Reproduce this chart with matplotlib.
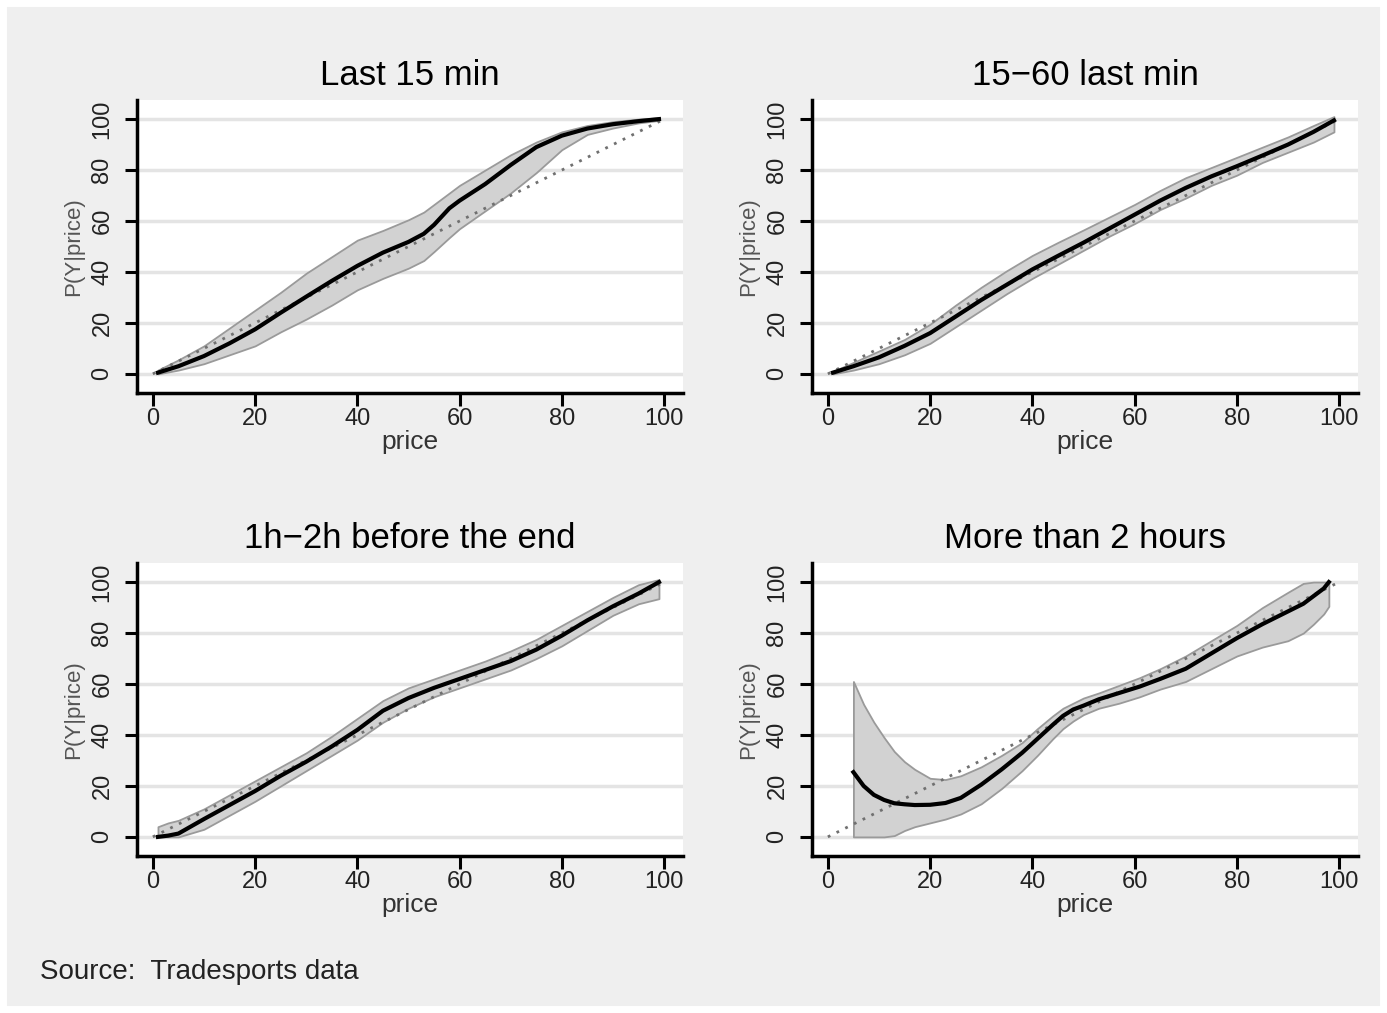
import matplotlib.pyplot as plt
from matplotlib.patches import Rectangle

plt.rcParams['font.family'] = ['Liberation Sans', 'DejaVu Sans']

# Panel titles
titles = ['Last 15 min', '15\u221260 last min', '1h\u22122h before the end', 'More than 2 hours']

# Last 15 min
x_tl = [1, 5, 10, 15, 20, 25, 30, 35, 40, 45, 50, 53, 55, 58, 60, 65, 70, 75, 80, 85, 90, 95, 99]
fit_tl = [0.5, 3, 7, 12, 17.5, 24, 30.3, 36.5, 42.4, 47.6, 51.8, 55, 58.5, 65, 68, 74.5, 82, 89, 93.5, 96.3, 98, 99.2, 100]
hi_tl = [1.5, 5.5, 11, 18, 25, 32, 39.5, 46, 52.5, 56.3, 60.5, 63.5, 66.5, 71, 74, 80, 86, 91, 95, 97.5, 99, 100, 100.5]
lo_tl = [0, 1.5, 4, 7.5, 11, 16.5, 21.5, 27, 33, 37.5, 41.5, 44.5, 48, 53.5, 57, 64, 71, 79, 88, 94, 96.5, 98.5, 99.5]

# 15-60 last min
x_tr = [1, 5, 10, 15, 20, 25, 30, 35, 40, 45, 50, 55, 60, 65, 70, 75, 80, 85, 90, 95, 99]
fit_tr = [0.5, 3, 6.5, 11, 16, 22.5, 29, 35, 41, 46.3, 51.5, 57, 62.5, 68, 73, 77.5, 81.5, 85.7, 90, 95, 99.5]
hi_tr = [1, 4.5, 9, 13.5, 19.5, 27, 34, 40.5, 46.5, 51.6, 56.5, 61.5, 66.5, 72, 77, 81, 85, 89, 93, 97.5, 101]
lo_tr = [0, 1.5, 4, 7.5, 12, 18.5, 25, 31.5, 37.5, 43, 48.5, 54, 59, 64.5, 69, 74, 78, 83, 87, 91, 95]

# 1h-2h before the end
x_bl = [1, 3, 5, 10, 15, 20, 25, 30, 35, 40, 45, 50, 55, 60, 65, 70, 75, 80, 85, 90, 95, 99]
fit_bl = [0, 0.5, 1.3, 7, 12.5, 18, 24, 29.5, 35.5, 42, 49.5, 54.5, 58.5, 62, 65.5, 69, 73.5, 79, 85, 90.5, 95.5, 100]
hi_bl = [4, 5.5, 6.5, 11, 16.5, 22, 27.5, 33, 39.5, 46.5, 53.5, 58.5, 62, 65.5, 69, 73, 77.5, 83, 88.5, 94, 99, 101]
lo_bl = [0, 0, 0, 3, 8.5, 14, 20, 26, 32, 38, 45, 50.5, 55, 58.5, 62, 65.5, 70, 75, 81, 87, 91.5, 93.5]

# More than 2 hours
x_br = [5, 7, 9, 11, 13, 15, 17, 20, 23, 26, 30, 34, 38, 41, 44, 46, 48, 50, 53, 57, 61, 65, 70, 75, 80, 85, 90, 93, 95, 97, 98]
fit_br = [25.4, 20, 16.5, 14.5, 13.2, 12.8, 12.5, 12.6, 13.3, 15.3, 20.5, 26.5, 33, 38.5, 44, 47.5, 50, 51.5, 54, 56.5, 59, 62, 66, 72, 78, 83.5, 88.5, 91.5, 94.5, 97.5, 100]
hi_br = [61, 52, 45, 39, 33.5, 29.5, 26.5, 23, 22.5, 24, 27.5, 32, 37, 42.5, 47.5, 50.5, 52.5, 54.5, 56.5, 59.5, 62.5, 66, 71, 77, 83, 90, 96, 99.5, 100, 100, 100]
lo_br = [0, 0, 0, 0, 0.5, 2.5, 4, 5.5, 7, 9, 13, 19, 26, 32, 38.5, 42.5, 45.5, 48, 50.5, 52.5, 55, 58, 61, 66, 71, 74.5, 77, 80, 83.5, 87.5, 90.5]

panels = [(x_tl, fit_tl, lo_tl, hi_tl), (x_tr, fit_tr, lo_tr, hi_tr),
          (x_bl, fit_bl, lo_bl, hi_bl), (x_br, fit_br, lo_br, hi_br)]

ticks = [0, 20, 40, 60, 80, 100]

W, H = 1387, 1013
fig = plt.figure(figsize=(W / 100, H / 100), dpi=100, facecolor='#efefef')
fig.patches.append(Rectangle((0, 0), 1, 1, transform=fig.transFigure, fill=False,
                             edgecolor='white', linewidth=10))

# axes boxes in pixels: left, top
boxes = [(137, 100), (812, 100), (137, 563), (812, 563)]
aw, ah = 546, 293

for (l, t), (x, fit, lo, hi), title in zip(boxes, panels, titles):
    ax = fig.add_axes([l / W, (H - t - ah) / H, aw / W, ah / H])
    ax.set_facecolor('white')
    ax.fill_between(x, lo, hi, facecolor='#d2d2d2', edgecolor='#9a9a9a', linewidth=1.3, zorder=2)
    ax.plot([0, 100], [0, 100], color='#707070', linestyle=(0, (1, 2.5)), linewidth=2, zorder=3)
    ax.plot(x, fit, color='black', linewidth=3, zorder=4)

    ax.set_xlim(-3.1, 103.7)
    ax.set_ylim(-7.5, 107.5)
    ax.set_xticks(ticks)
    ax.set_yticks(ticks)
    ax.set_yticklabels([str(v) for v in ticks], rotation=90, va='center')
    ax.grid(axis='y', color='#e4e4e4', linewidth=2.5, zorder=0)
    ax.set_axisbelow(True)
    for s in ['top', 'right']:
        ax.spines[s].set_visible(False)
    for s in ['left', 'bottom']:
        ax.spines[s].set_linewidth(2.5)
    ax.tick_params(direction='out', length=9, width=2.2, labelsize=17, colors='black',
                   labelcolor='#222222')
    ax.tick_params(axis='x', pad=2)
    ax.tick_params(axis='y', pad=8)
    ax.set_title(title, fontsize=25, pad=11)
    ax.set_xlabel('price', fontsize=19, color='#333333', labelpad=0)
    ax.set_ylabel('P(Y|price)', fontsize=16, color='#555555')
    ax.yaxis.set_label_coords(-0.096, 0.5)

fig.text(40 / W, 1 - 972 / H, 'Source:  Tradesports data', fontsize=20, va='center', color='#222222')

fig.savefig('out.png', dpi=100, facecolor=fig.get_facecolor())
